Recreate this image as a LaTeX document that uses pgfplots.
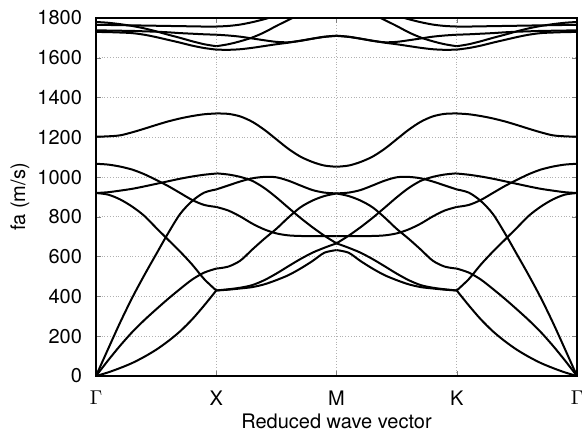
\documentclass[border=0pt]{standalone}
\usepackage{fontspec}
\setmainfont{TeX Gyre Heros}
\usepackage{pgfplots}
\usepackage{pgfplotstable}
\pgfplotsset{compat=1.18}

% Gamma -> X (mirrored for K -> Gamma)
\pgfplotstableread{
x   b1   b2   b3   b4   b5   b6   b7   ua   ub   uc   ud
0.0 0    0    0    920  920  1067 1203 1766 1780 1738 1730
0.1 18   78   135  912  924  1063 1205 1765 1776 1737 1729
0.2 40   152  268  888  932  1053 1210 1764 1769 1736 1727
0.3 65   220  392  852  941  1038 1225 1763 1760 1735 1724
0.4 96   280  505  806  953  1015 1243 1762 1748 1733 1716
0.5 132  335  612  745  966  986  1262 1761 1733 1731 1704
0.6 175  388  718  685  979  955  1280 1760 1716 1728 1690
0.7 225  438  815  625  992  920  1295 1759 1700 1724 1676
0.8 285  485  880  560  1003 885  1307 1758 1683 1721 1661
0.9 355  520  922  487  1012 860  1316 1757 1668 1718 1649
1.0 430  540  938  430  1018 850  1320 1757 1658 1716 1641
}\gx

% X -> M (mirrored for M -> K)
\pgfplotstableread{
x   m1   m2   m3   m4   m5   m6   m7   ua   ub   uc   ud
1.0 430  430  540  938  1019 850  1320 1757 1658 1716 1641
1.1 434  436  550  958  1013 832  1318 1760 1668 1712 1640
1.2 440  444  580  978  1001 802  1305 1767 1683 1706 1643
1.3 447  457  636  994  981  766  1278 1779 1702 1697 1650
1.4 461  482  690  1001 945  737  1238 1794 1728 1688 1659
1.5 482  515  740  999  898  717  1190 1812 1760 1680 1668
1.6 507  552  797  982  846  707  1142 1830 1790 1678 1676
1.7 540  588  848  958  795  704  1103 1850 1820 1685 1686
1.8 578  620  882  935  748  703  1076 1870 1850 1696 1696
1.9 620  645  905  922  705  703  1058 1885 1875 1706 1705
2.0 633  667  918  918  667  703  1052 1900 1900 1711 1710
}\xm

\begin{document}
\begin{tikzpicture}[font=\fontsize{10}{12}\selectfont]
\begin{axis}[
  scale only axis,
  width=240.5pt, height=179pt,
  xmin=0, xmax=4, ymin=0, ymax=1800,
  xtick={0,1,2,3,4},
  xticklabels={$\Gamma$, X, M, K, $\Gamma$},
  ytick={0,200,...,1800},
  /pgf/number format/assume math mode=true,
  /pgf/number format/1000 sep={},
  tick align=inside,
  major tick length=2.5pt,
  grid=major,
  major grid style={densely dotted, gray!60, line width=0.4pt},
  axis line style={line width=0.7pt},
  xticklabel style={yshift=-4pt},
  yticklabel style={xshift=-3.5pt},
  xlabel={Reduced wave vector},
  ylabel={fa (m/s)},
  every axis x label/.style={at={(axis description cs:0.5,-0.126)}, anchor=center},
  every axis y label/.style={at={(axis description cs:-0.158,0.5)}, rotate=90, anchor=center},
  band/.style={black, line width=1pt, smooth, no markers},
]
\pgfplotsinvokeforeach{b1,b2,b3,b4,b5,b6,b7,ua,ub,uc,ud}{
  \addplot[band] table[x=x, y=#1] {\gx};
  \addplot[band] table[x expr=4-\thisrow{x}, y=#1] {\gx};
}
\pgfplotsinvokeforeach{m1,m2,m3,m4,m5,m6,m7,ua,ub,uc,ud}{
  \addplot[band] table[x=x, y=#1] {\xm};
  \addplot[band] table[x expr=4-\thisrow{x}, y=#1] {\xm};
}
\end{axis}
\pgfresetboundingbox
\path ([shift={(-48pt,-27.5pt)}]current axis.south west) rectangle ([shift={(2.5pt,9pt)}]current axis.north east);
\end{tikzpicture}
\end{document}
